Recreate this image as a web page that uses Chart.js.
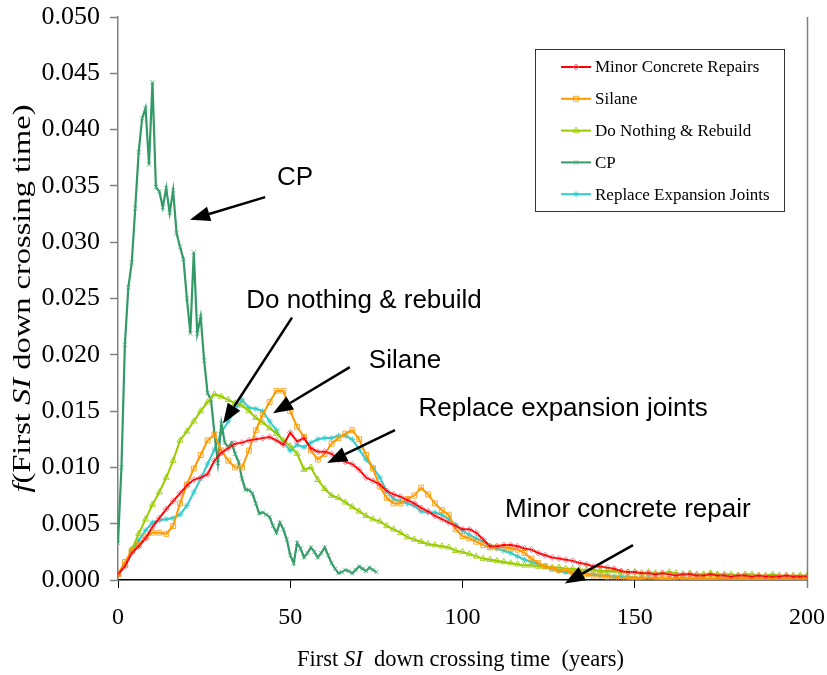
<!DOCTYPE html>
<html><head><meta charset="utf-8">
<script src="https://cdn.jsdelivr.net/npm/chart.js@4.4.1/dist/chart.umd.min.js"></script>
<style>html,body{margin:0;padding:0;background:#fff}canvas{display:block}</style>
</head><body>
<canvas id="c" width="827" height="675"></canvas>
<script>
// ---- data ----
const years = [0,2,4,6,8,10,12,14,16,18,20,22,24,26,28,30,32,34,36,38,40,42,44,46,48,50,52,54,56,58,60,62,64,66,68,70,72,74,76,78,80,82,84,86,88,90,92,94,96,98,100,102,104,106,108,110,112,114,116,118,120,122,124,126,128,130,132,134,136,138,140,142,144,146,148,150,152,154,156,158,160,162,164,166,168,170,172,174,176,178,180,182,184,186,188,190,192,194,196,198,200];

const minorRepairs = [
0.0005,0.0012,0.0024,0.0030,0.0037,0.0047,0.0055,0.0063,0.0070,0.0077,
0.0084,0.0089,0.0091,0.0094,0.0106,0.0113,0.0117,0.0121,0.0122,0.0124,
0.0125,0.0126,0.0127,0.0124,0.0120,0.0131,0.0123,0.0126,0.0117,0.0114,
0.0114,0.0112,0.0107,0.0105,0.0103,0.0098,0.0091,0.0088,0.0085,0.0079,
0.0076,0.0074,0.0071,0.0068,0.0064,0.0061,0.0057,0.0054,0.0051,0.0048,
0.0045,0.0045,0.0042,0.0036,0.0030,0.0030,0.0031,0.0031,0.0030,0.0028,
0.0027,0.0024,0.0022,0.0020,0.0019,0.0018,0.0017,0.0015,0.0014,0.0012,
0.0012,0.0011,0.0010,0.0008,0.0007,0.0007,0.0006,0.0006,0.0005,0.0006,
0.0005,0.0004,0.0005,0.0005,0.0004,0.0004,0.0005,0.0004,0.0004,0.0003,
0.0004,0.0004,0.0003,0.0004,0.0003,0.0003,0.0003,0.0004,0.0003,0.0003,
0.0003];

const silane = [
0.0005,0.0016,0.0026,0.0031,0.0038,0.0042,0.0042,0.0041,0.0048,0.0068,
0.0085,0.0099,0.0111,0.0124,0.0129,0.0115,0.0106,0.0100,0.0100,0.0115,
0.0133,0.0147,0.0158,0.0168,0.0168,0.0150,0.0136,0.0127,0.0115,0.0107,
0.0112,0.0121,0.0126,0.0130,0.0133,0.0125,0.0111,0.0099,0.0083,0.0073,
0.0068,0.0068,0.0072,0.0075,0.0082,0.0076,0.0068,0.0062,0.0058,0.0045,
0.0039,0.0037,0.0034,0.0031,0.0029,0.0029,0.0029,0.0028,0.0027,0.0024,
0.0019,0.0015,0.0012,0.0010,0.0009,0.0008,0.0007,0.0006,0.0005,0.0004,
0.0004,0.0003,0.0002,0.0002,0.0001,0.0001,0.0001,0.0002,0.0001,0.0001,
0.0001,0.0001,0.0002,0.0001,0.0001,0.0001,0.0001,0.0001,0.0002,0.0001,
0.0001,0.0001,0.0001,0.0001,0.0001,0.0001,0.0001,0.0001,0.0001,0.0001,
0.0001];

const doNothing = [
0.0005,0.0013,0.0027,0.0041,0.0054,0.0067,0.0078,0.0091,0.0106,0.0124,
0.0132,0.0141,0.0150,0.0158,0.0165,0.0163,0.0160,0.0157,0.0155,0.0150,
0.0144,0.0140,0.0135,0.0130,0.0124,0.0119,0.0112,0.0098,0.0100,0.0089,
0.0081,0.0075,0.0073,0.0069,0.0065,0.0061,0.0057,0.0054,0.0052,0.0048,
0.0045,0.0042,0.0038,0.0036,0.0034,0.0032,0.0031,0.0030,0.0029,0.0026,
0.0025,0.0023,0.0021,0.0019,0.0018,0.0017,0.0016,0.0015,0.0014,0.0013,
0.0013,0.0012,0.0012,0.0011,0.0011,0.0010,0.0010,0.0009,0.0009,0.0009,
0.0008,0.0008,0.0008,0.0007,0.0007,0.0007,0.0006,0.0007,0.0006,0.0006,
0.0007,0.0006,0.0005,0.0006,0.0005,0.0005,0.0006,0.0005,0.0005,0.0005,
0.0004,0.0005,0.0005,0.0004,0.0004,0.0005,0.0004,0.0004,0.0004,0.0004,
0.0004];

const replaceJoints = [
0.0005,0.0014,0.0027,0.0035,0.0044,0.0051,0.0053,0.0054,0.0055,0.0058,
0.0066,0.0078,0.0090,0.0103,0.0116,0.0131,0.0141,0.0151,0.0160,0.0153,
0.0152,0.0150,0.0141,0.0133,0.0122,0.0115,0.0120,0.0118,0.0122,0.0125,
0.0126,0.0126,0.0128,0.0128,0.0125,0.0116,0.0107,0.0100,0.0091,0.0079,
0.0072,0.0070,0.0068,0.0066,0.0061,0.0060,0.0060,0.0058,0.0054,0.0049,
0.0044,0.0040,0.0037,0.0034,0.0030,0.0028,0.0026,0.0024,0.0021,0.0018,
0.0016,0.0014,0.0012,0.0010,0.0008,0.0007,0.0006,0.0006,0.0005,0.0005,
0.0004,0.0004,0.0003,0.0003,0.0003,0.0002,0.0002,0.0002,0.0002,0.0001,
0.0001,0.0002,0.0001,0.0001,0.0001,0.0001,0.0001,0.0001,0.0001,0.0001,
0.0001,0.0001,0.0001,0.0001,0.0001,0.0001,0.0001,0.0001,0.0001,0.0001,
0.0001];

const cpYears = [0,1,2,3,4,5,6,7,8,9,10,11,12,13,14,15,16,17,18,19,20,21,22,23,24,25,26,27,28,29,30,31,32,33,34,35,36,37,38,39,40,41,42,43,44,45,46,47,48,49,50,51,52,53,54,55,56,57,58,59,60,61,62,63,64,65,66,67,68,69,70,71,72,73,74,75];
const cp = [
0.0033,0.0100,0.0209,0.0260,0.0282,0.0330,0.0380,0.0410,0.0419,0.0369,
0.0442,0.0349,0.0345,0.0331,0.0348,0.0326,0.0346,0.0308,0.0296,0.0285,
0.0250,0.0219,0.0291,0.0219,0.0234,0.0195,0.0166,0.0160,0.0130,0.0104,
0.0139,0.0122,0.0118,0.0122,0.0112,0.0105,0.0090,0.0080,0.0080,0.0077,
0.0068,0.0059,0.0060,0.0058,0.0056,0.0048,0.0042,0.0051,0.0045,0.0036,
0.0022,0.0015,0.0033,0.0028,0.0020,0.0024,0.0029,0.0025,0.0020,0.0024,
0.0029,0.0022,0.0015,0.0010,0.0006,0.0007,0.0009,0.0008,0.0006,0.0009,
0.0012,0.0010,0.0008,0.0011,0.0009,0.0007];

const seriesNames = ['Minor Concrete Repairs','Silane','Do Nothing & Rebuild','CP','Replace Expansion Joints'];
const xTicks = [0,50,100,150,200];
const yTicksMax = 0.05;

// ---- styles ----
const styles = [
  {color:'#FF0000', point:'rectRot', pb:'rgba(255,90,110,0.8)', r:3},
  {color:'#FF9900', point:'rect', pb:'rgba(255,153,0,0.85)', r:3.5},
  {color:'#99CC00', point:'triangle', pb:'rgba(153,204,0,0.85)', r:3.5},
  {color:'#339966', point:'crossRot', pb:'rgba(70,170,120,0.8)', r:3},
  {color:'#33CCCC', point:'star', pb:'rgba(51,204,204,0.85)', r:3}
];

function pts(xs, ys){ return xs.map((x,i)=>({x:x, y:ys[i]})); }
const seriesData = [pts(years,minorRepairs), pts(years,silane), pts(years,doNothing), pts(cpYears,cp), pts(years,replaceJoints)];

const datasets = seriesNames.map((n,i)=>({
  label:n, data:seriesData[i],
  borderColor:styles[i].color, borderWidth:(i===3?2.2:2),
  pointStyle:styles[i].point, pointRadius:styles[i].r,
  pointBorderColor:styles[i].pb, pointBackgroundColor:'rgba(255,255,255,0)',
  pointBorderWidth:1, tension:0, fill:false
}));

// annotation texts and arrows, anchored in data units
const annotations = [
  {text:'CP', x:51.4, y:0.0357, fx:42.7, fy:0.0340, tx:20.9, ty:0.0320},
  {text:'Do nothing & rebuild', x:71.4, y:0.0248, fx:50.5, fy:0.0233, tx:30.5, ty:0.0139},
  {text:'Silane', x:83.3, y:0.0195, fx:67.3, fy:0.0189, tx:45.0, ty:0.0148},
  {text:'Replace expansion joints', x:129.2, y:0.0152, fx:80.4, fy:0.0133, tx:60.7, ty:0.0104},
  {text:'Minor concrete repair', x:148.0, y:0.0062, fx:149.5, fy:0.0031, tx:129.7, ty:-0.0003}
];

const SERIF = '"Liberation Serif","Times New Roman",serif';
const SANS = '"Liberation Sans",Arial,sans-serif';

function drawRich(ctx, parts, cx, cy, size){
  let total = 0;
  parts.forEach(p=>{ ctx.font=(p.i?'italic ':'')+size+'px '+SERIF; p.w=ctx.measureText(p.t).width; total+=p.w; });
  let x = cx - total/2;
  ctx.textAlign='left'; ctx.textBaseline='middle'; ctx.fillStyle='#000';
  parts.forEach(p=>{ ctx.font=(p.i?'italic ':'')+size+'px '+SERIF; ctx.fillText(p.t, x, cy); x+=p.w; });
}

function arrow(ctx,x1,y1,x2,y2){
  const a = Math.atan2(y2-y1, x2-x1);
  const hl = 20, hw = 7.5;
  const bx = x2 - hl*Math.cos(a), by = y2 - hl*Math.sin(a);
  ctx.strokeStyle='#000'; ctx.fillStyle='#000'; ctx.lineWidth=2.5;
  ctx.beginPath(); ctx.moveTo(x1,y1); ctx.lineTo(bx,by); ctx.stroke();
  ctx.beginPath(); ctx.moveTo(x2,y2);
  ctx.lineTo(bx + hw*Math.sin(a), by - hw*Math.cos(a));
  ctx.lineTo(bx - hw*Math.sin(a), by + hw*Math.cos(a));
  ctx.closePath(); ctx.fill();
}

const decor = {
  id:'decor',
  afterDraw(chart){
    const ctx = chart.ctx, ca = chart.chartArea;
    const xs = chart.scales.x, ys = chart.scales.y;
    ctx.save();
    // right border of plot area
    ctx.strokeStyle='#808080'; ctx.lineWidth=1.5;
    ctx.beginPath(); ctx.moveTo(ca.right+0.5, ca.top); ctx.lineTo(ca.right+0.5, ca.bottom+8); ctx.stroke();

    // annotations
    annotations.forEach(a=>{
      ctx.font='26px '+SANS; ctx.fillStyle='#000'; ctx.textAlign='center'; ctx.textBaseline='middle';
      ctx.fillText(a.text, xs.getPixelForValue(a.x), ys.getPixelForValue(a.y));
      arrow(ctx, xs.getPixelForValue(a.fx), ys.getPixelForValue(a.fy), xs.getPixelForValue(a.tx), ys.getPixelForValue(a.ty));
    });

    // axis titles
    drawRich(ctx, [{t:'First '},{t:'SI',i:true},{t:'  down crossing time  (years)'}], (ca.left+ca.right)/2 - 2, 660, 22.5);
    ctx.save();
    ctx.translate(23, (ca.top+ca.bottom)/2);
    ctx.rotate(-Math.PI/2);
    ctx.scale(1.3, 1);
    drawRich(ctx, [{t:'f',i:true},{t:'(First '},{t:'SI',i:true},{t:' down crossing time)'}], 0, 0, 25);
    ctx.restore();

    // legend
    const lx = ca.right - 272, ly = ca.top + 32, lw = 249, lh = 162;
    ctx.fillStyle='#fff'; ctx.fillRect(lx, ly, lw, lh);
    ctx.strokeStyle='#333'; ctx.lineWidth=1;
    ctx.strokeRect(lx+0.5, ly+0.5, lw, lh);
    seriesNames.forEach((n,i)=>{
      const yy = ly + 18 + i*31.8;
      const x1 = lx + 26, x2 = lx + 56;
      ctx.strokeStyle=styles[i].color; ctx.lineWidth=2;
      ctx.beginPath(); ctx.moveTo(x1,yy); ctx.lineTo(x2,yy); ctx.stroke();
      ctx.strokeStyle=styles[i].pb; ctx.fillStyle='rgba(255,255,255,0)'; ctx.lineWidth=1;
      Chart.helpers.drawPoint(ctx, {pointStyle:styles[i].point, radius:styles[i].r, borderWidth:1, rotation:0}, (x1+x2)/2, yy);
      ctx.fillStyle='#000'; ctx.font='17px '+SERIF; ctx.textAlign='left'; ctx.textBaseline='middle';
      ctx.fillText(n, x2+4, yy+1);
    });
    ctx.restore();
  }
};

new Chart(document.getElementById('c'), {
  type:'line',
  data:{datasets:datasets},
  options:{
    responsive:false, animation:false, devicePixelRatio:1,
    layout:{padding:{top:17,right:20,bottom:0,left:0}},
    plugins:{legend:{display:false}, tooltip:{enabled:false}},
    scales:{
      x:{type:'linear', min:xTicks[0], max:xTicks[xTicks.length-1],
         afterBuildTicks(s){ s.ticks = xTicks.map(v=>({value:v})); },
         afterFit(s){ s.height = 95; s.paddingLeft = 0; s.paddingRight = 0; },
         grid:{drawOnChartArea:false, drawTicks:true, tickLength:8, color:'#000', tickWidth:1},
         border:{color:'#000', width:1.5},
         ticks:{font:{family:SERIF, size:24}, color:'#000', padding:15, maxRotation:0, autoSkip:false}},
      y:{type:'linear', min:0, max:yTicksMax,
         afterFit(s){ s.width = 118; s.paddingTop = 0; s.paddingBottom = 0; },
         grid:{drawOnChartArea:false, drawTicks:true, tickLength:8, color:'#808080', tickWidth:1.5},
         border:{color:'#808080', width:1.5},
         ticks:{stepSize:0.005, font:{family:SERIF, size:26}, color:'#000', padding:10,
                callback:v=>Number(v).toFixed(3)}}
    }
  },
  plugins:[decor]
});
</script>
</body></html>
